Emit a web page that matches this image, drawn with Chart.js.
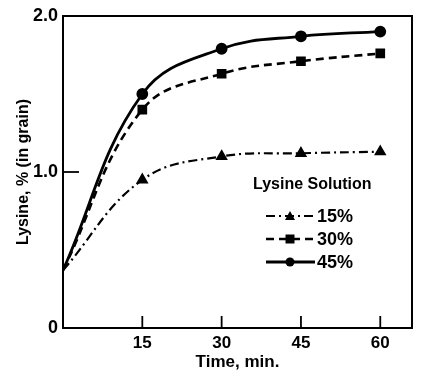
<!DOCTYPE html>
<html><head><meta charset="utf-8">
<script src="https://cdn.jsdelivr.net/npm/chart.js@4/dist/chart.umd.min.js"></script>
<style>html,body{margin:0;padding:0;background:#fff}#wrap{width:422px;height:376px}</style>
</head><body><div id="wrap"><canvas id="c" width="422" height="376"></canvas></div>
<script>
const times = [0, 15, 30, 45, 60];
const lys15 = [0.37, 0.95, 1.10, 1.12, 1.13];
const lys30 = [0.37, 1.40, 1.63, 1.71, 1.76];
const lys45 = [0.37, 1.50, 1.79, 1.87, 1.90];
const seriesNames = ['15%', '30%', '45%'];
const xTicks = [15, 30, 45, 60];
const yTicks = [0, 1, 2];
const yTickLabels = ['0', '1.0', '2.0'];
const FONT = "'Liberation Sans Narrow','Liberation Sans','Open Sans',sans-serif";

function pts(v){ return times.map((t,i)=>({x:t,y:v[i]})); }

const frame = {
  id:'frame',
  afterDatasetsDraw(chart){
    const {ctx, chartArea:a, scales} = chart;
    ctx.save();
    ctx.strokeStyle='#000'; ctx.lineWidth=2;
    ctx.strokeRect(a.left, a.top, a.right-a.left, a.bottom-a.top);
    ctx.lineWidth=1.8;
    xTicks.forEach(t=>{ const x=scales.x.getPixelForValue(t); ctx.beginPath(); ctx.moveTo(x,a.bottom); ctx.lineTo(x,a.bottom-12); ctx.stroke(); });
    const y1=scales.y.getPixelForValue(1); ctx.beginPath(); ctx.moveTo(a.left,y1); ctx.lineTo(a.left+16,y1); ctx.stroke();
    ctx.fillStyle='#000'; ctx.textBaseline='middle'; ctx.textAlign='left';
    ctx.font='condensed bold 16px '+FONT;
    ctx.fillText('Lysine Solution', 253, 185);
    ctx.font='condensed bold 18px '+FONT;
    const rows=[216,239,262];
    chart.data.datasets.forEach((ds,i)=>{
      const y=rows[i];
      ctx.setLineDash(ds.borderDash||[]); ctx.lineWidth=ds.borderWidth; ctx.strokeStyle='#000';
      ctx.beginPath(); ctx.moveTo(266,y); ctx.lineTo(315,y); ctx.stroke();
      ctx.setLineDash([]);
      const cx=290;
      ctx.beginPath();
      if(ds.pointStyle==='triangle'){ ctx.moveTo(cx,y-5); ctx.lineTo(cx+5,y+4); ctx.lineTo(cx-5,y+4); ctx.closePath(); }
      else if(ds.pointStyle==='rect'){ ctx.rect(cx-4.5,y-4.5,9,9); }
      else { ctx.arc(cx,y,4.5,0,Math.PI*2); }
      ctx.fill();
      ctx.fillText(seriesNames[i], 317, y+1);
    });
    ctx.restore();
  }
};

new Chart(document.getElementById('c'), {
  type:'line',
  data:{ datasets:[
    {label:seriesNames[0], data:pts(lys15), borderColor:'#000', backgroundColor:'#000', borderWidth:2.2, borderDash:[9,4,2,4], pointStyle:'triangle', pointRadius:[0,5,5,5,5], tension:0.4, fill:false},
    {label:seriesNames[1], data:pts(lys30), borderColor:'#000', backgroundColor:'#000', borderWidth:2.6, borderDash:[8,5], pointStyle:'rect', pointRadius:[0,5,5,5,5], tension:0.4, fill:false},
    {label:seriesNames[2], data:pts(lys45), borderColor:'#000', backgroundColor:'#000', borderWidth:2.8, pointStyle:'circle', pointRadius:[0,4.5,4.5,4.5,4.5], tension:0.4, fill:false}
  ]},
  options:{
    responsive:false, animation:false, devicePixelRatio:1,
    layout:{padding:{left:0,right:10,top:16,bottom:0}},
    plugins:{legend:{display:false}, tooltip:{enabled:false}},
    scales:{
      x:{type:'linear', min:0, max:66,
        afterFit(s){ s.height=48; },
        afterBuildTicks(s){ s.ticks = xTicks.map(v=>({value:v})); },
        grid:{display:false, drawTicks:false}, border:{display:false},
        ticks:{color:'#000', font:{family:FONT, size:17, weight:'bold', style:'condensed'}, padding:5, maxRotation:0},
        title:{display:true, text:'Time, min.', color:'#000', font:{family:FONT, size:17, weight:'bold', style:'condensed'}, padding:{top:0,bottom:3}}
      },
      y:{min:0, max:2,
        afterFit(s){ s.width=63; },
        afterBuildTicks(s){ s.ticks = yTicks.map(v=>({value:v})); },
        grid:{display:false, drawTicks:false}, border:{display:false},
        ticks:{color:'#000', font:{family:FONT, size:18, weight:'bold', style:'condensed'}, padding:5, callback:(v)=>yTickLabels[yTicks.indexOf(v)]},
        title:{display:true, text:'Lysine, % (in grain)', color:'#000', font:{family:FONT, size:16, weight:'bold', style:'condensed'}, padding:{top:14,bottom:0}}
      }
    }
  },
  plugins:[frame]
});
</script></body></html>
